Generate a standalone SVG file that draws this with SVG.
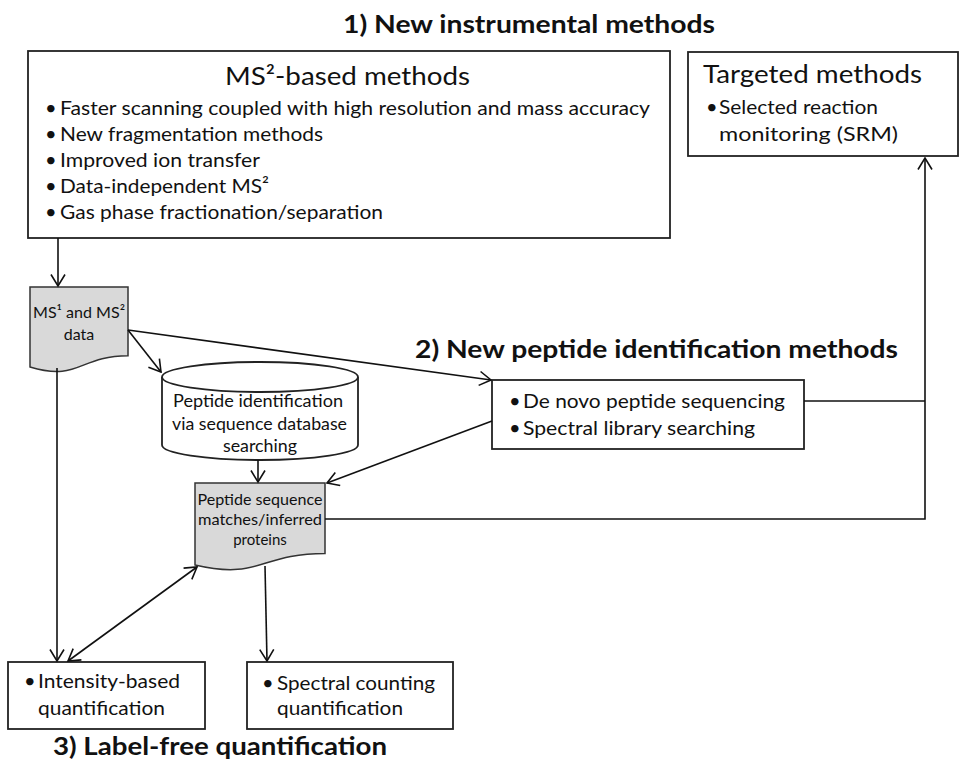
<svg xmlns="http://www.w3.org/2000/svg" width="960" height="763" viewBox="0 0 960 763">
<style>
text{font-family:Lato,"Open Sans","Liberation Sans",sans-serif;fill:#111}
.t{font-weight:700;font-size:24px}
.h{font-size:25px}
.b{font-size:20px}
.s{font-size:17px}
.m{font-size:16px;text-anchor:middle}
.p{font-size:15px;text-anchor:middle}
.box{fill:#fff;stroke:#222;stroke-width:1.8}
.doc{fill:#d9d9d9;stroke:#333;stroke-width:1.5}
.c{fill:none;stroke:#111;stroke-width:1.6}
</style>
<defs>
<marker id="a" viewBox="0 0 14 16" refX="12.5" refY="8" markerWidth="14" markerHeight="16" markerUnits="userSpaceOnUse" orient="auto-start-reverse">
<path d="M1,1 L12.5,8 L1,15" fill="none" stroke="#111" stroke-width="1.6"/>
</marker>
</defs>
<rect width="960" height="763" fill="#fff"/>

<text class="t" x="343" y="33" textLength="372" lengthAdjust="spacingAndGlyphs">1) New instrumental methods</text>
<text class="t" x="415" y="358" textLength="483" lengthAdjust="spacingAndGlyphs">2) New peptide identification methods</text>
<text class="t" x="53" y="755" textLength="334" lengthAdjust="spacingAndGlyphs">3) Label-free quantification</text>

<g id="ms2">
<rect class="box" x="28" y="51" width="642" height="187"/>
<text class="h" x="225" y="85" textLength="245" lengthAdjust="spacingAndGlyphs">MS²-based methods</text>
<text class="b" x="45" y="115">•</text><text class="b" x="60" y="115" textLength="590" lengthAdjust="spacingAndGlyphs">Faster scanning coupled with high resolution and mass accuracy</text>
<text class="b" x="45" y="141">•</text><text class="b" x="60" y="141" textLength="263" lengthAdjust="spacingAndGlyphs">New fragmentation methods</text>
<text class="b" x="45" y="167">•</text><text class="b" x="60" y="167" textLength="200" lengthAdjust="spacingAndGlyphs">Improved ion transfer</text>
<text class="b" x="45" y="193">•</text><text class="b" x="60" y="193" textLength="209" lengthAdjust="spacingAndGlyphs">Data-independent MS²</text>
<text class="b" x="45" y="219">•</text><text class="b" x="60" y="219" textLength="323" lengthAdjust="spacingAndGlyphs">Gas phase fractionation/separation</text>
</g>

<g id="targeted">
<rect class="box" x="688" y="52" width="270" height="104"/>
<text class="h" x="703" y="83" textLength="219" lengthAdjust="spacingAndGlyphs">Targeted methods</text>
<text class="b" x="706" y="114">•</text><text class="b" x="719" y="114" textLength="159" lengthAdjust="spacingAndGlyphs">Selected reaction</text>
<text class="b" x="719" y="141" textLength="179" lengthAdjust="spacingAndGlyphs">monitoring (SRM)</text>
</g>

<g id="msdata">
<path class="doc" d="M30,287 H128 V355.7 C79,355.7 79,381.8 30,367 Z"/>
<text class="m" x="79" y="318" textLength="92" lengthAdjust="spacingAndGlyphs">MS¹ and MS²</text>
<text class="m" x="79" y="340">data</text>
</g>

<g id="dbsearch">
<path class="box" d="M162,377 V445 A98,15 0 0 0 358,445 V377"/>
<ellipse class="box" cx="260" cy="377" rx="98" ry="15"/>
<text class="s" x="173" y="407" textLength="170" lengthAdjust="spacingAndGlyphs">Peptide identification</text>
<text class="s" x="172" y="430" textLength="175" lengthAdjust="spacingAndGlyphs">via sequence database</text>
<text class="s" x="223" y="452" textLength="74" lengthAdjust="spacingAndGlyphs">searching</text>
</g>

<g id="denovo">
<rect class="box" x="492" y="380" width="312" height="69"/>
<text class="b" x="509" y="408">•</text><text class="b" x="523" y="408" textLength="262" lengthAdjust="spacingAndGlyphs">De novo peptide sequencing</text>
<text class="b" x="509" y="435">•</text><text class="b" x="523" y="435" textLength="232" lengthAdjust="spacingAndGlyphs">Spectral library searching</text>
</g>

<g id="psm">
<path class="doc" d="M195,483 H325 V553.4 C260,553.4 260,580.2 195,565 Z"/>
<text class="p" x="260" y="505" textLength="125" lengthAdjust="spacingAndGlyphs">Peptide sequence</text>
<text class="p" x="260" y="525" textLength="124" lengthAdjust="spacingAndGlyphs">matches/inferred</text>
<text class="p" x="260" y="545">proteins</text>
</g>

<g id="intensity">
<rect class="box" x="8" y="662" width="197" height="67"/>
<text class="b" x="24" y="688">•</text><text class="b" x="38" y="688" textLength="142" lengthAdjust="spacingAndGlyphs">Intensity-based</text>
<text class="b" x="38" y="715" textLength="127" lengthAdjust="spacingAndGlyphs">quantification</text>
</g>

<g id="spectral">
<rect class="box" x="247" y="662" width="206" height="67"/>
<text class="b" x="262" y="690">•</text><text class="b" x="277" y="690" textLength="158" lengthAdjust="spacingAndGlyphs">Spectral counting</text>
<text class="b" x="277" y="715" textLength="126" lengthAdjust="spacingAndGlyphs">quantification</text>
</g>

<g id="connectors" class="c">
<path class="c" d="M58,238 V286" marker-end="url(#a)"/>
<path class="c" d="M128,330 L161,372" marker-end="url(#a)"/>
<path class="c" d="M128,330 L491,380" marker-end="url(#a)"/>
<path class="c" d="M258,460 V482" marker-end="url(#a)"/>
<path class="c" d="M492,421 L327,483" marker-end="url(#a)"/>
<path class="c" d="M57,368 V661" marker-end="url(#a)"/>
<path class="c" d="M68,661 L197,567" marker-start="url(#a)" marker-end="url(#a)"/>
<path class="c" d="M265,566 L267,661" marker-end="url(#a)"/>
<path class="c" d="M325,519 H925 V158" marker-end="url(#a)"/>
<path class="c" d="M804,401 H925"/>
</g>
</svg>
